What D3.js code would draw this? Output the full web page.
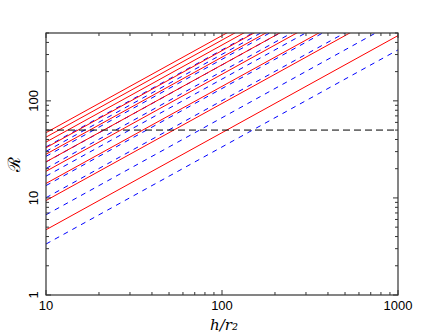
<!DOCTYPE html>
<html><head><meta charset="utf-8">
<script src="https://cdn.jsdelivr.net/npm/d3@7"></script>
<style>body{margin:0;background:#fff}svg{display:block}</style>
</head><body>
<script>
const xDomain = [10, 1000];
const yDomain = [1, 500];
const xTicks = [10, 100, 1000];
const yTicks = [1, 10, 100];
// R value of each line at h/r2 = 10 (lines have slope 1 in log-log)
const redIntercepts = [4.7, 9.4, 14.1, 18.8, 23.5, 28.2, 32.9, 37.6, 42.3, 47.0];
const blueIntercepts = [3.35, 6.7, 10.05, 13.4, 16.75, 20.1, 23.45, 26.8, 30.15, 33.5];
const thresholdR = 50;

const W = 447, H = 334;
const m = {left: 46, right: 49, top: 33, bottom: 39};
const svg = d3.select("body").append("svg").attr("width", W).attr("height", H);
const x = d3.scaleLog().domain(xDomain).range([m.left, W - m.right]);
const y = d3.scaleLog().domain(yDomain).range([H - m.bottom, m.top]);

svg.append("defs").append("clipPath").attr("id", "clip")
  .append("rect").attr("x", m.left).attr("y", m.top)
  .attr("width", W - m.left - m.right).attr("height", H - m.top - m.bottom);

const g = svg.append("g").attr("clip-path", "url(#clip)");
const line = c => [[xDomain[0], c], [xDomain[1], c * xDomain[1] / xDomain[0]]];
const path = d3.line().x(d => x(d[0])).y(d => y(d[1]));

g.selectAll(".blue").data(blueIntercepts).enter().append("path")
  .attr("d", c => path(line(c))).attr("fill", "none")
  .attr("stroke", "#0000ff").attr("stroke-width", 1).attr("stroke-dasharray", "5,5");
g.selectAll(".red").data(redIntercepts).enter().append("path")
  .attr("d", c => path(line(c))).attr("fill", "none")
  .attr("stroke", "#ff0000").attr("stroke-width", 1);
g.append("path").attr("d", path([[xDomain[0], thresholdR], [xDomain[1], thresholdR]]))
  .attr("fill", "none").attr("stroke", "#000").attr("stroke-width", 1).attr("stroke-dasharray", "7,4");

const xAll = [], yAll = [];
for (let d = 10; d < 1000; d *= 10) for (let k = 1; k < 10; k++) xAll.push(d * k);
xAll.push(1000);
for (let d = 1; d < 1000; d *= 10) for (let k = 1; k < 10; k++) if (d * k <= 500) yAll.push(d * k);
const axC = "#333";
const ax = svg.append("g").attr("stroke", axC).attr("stroke-width", 1);
const L = m.left, R = W - m.right, T = m.top, B = H - m.bottom;
xAll.forEach(v => {
  const major = xTicks.includes(v), len = major ? 5 : 3, px = x(v);
  ax.append("line").attr("x1", px).attr("x2", px).attr("y1", B).attr("y2", B - len);
  ax.append("line").attr("x1", px).attr("x2", px).attr("y1", T).attr("y2", T + len);
});
yAll.forEach(v => {
  const major = yTicks.includes(v), len = major ? 5 : 3, py = y(v);
  ax.append("line").attr("y1", py).attr("y2", py).attr("x1", L).attr("x2", L + len);
  ax.append("line").attr("y1", py).attr("y2", py).attr("x1", R).attr("x2", R - len);
});
svg.append("rect").attr("x", L).attr("y", T).attr("width", R - L).attr("height", B - T)
  .attr("fill", "none").attr("stroke", axC).attr("stroke-width", 1.2);

const font = "Liberation Sans, Arial, sans-serif";
svg.selectAll(".xl").data(xTicks).enter().append("text")
  .attr("x", d => x(d)).attr("y", B + 15).attr("text-anchor", "middle")
  .attr("font-family", font).attr("font-size", 13).text(d => d);
svg.selectAll(".yl").data(yTicks).enter().append("text")
  .attr("transform", d => `translate(${L - 8},${y(d)}) rotate(-90)`)
  .attr("text-anchor", "middle").attr("font-family", font).attr("font-size", 13).text(d => d);

svg.append("text").attr("x", (L + R) / 2 + 2).attr("y", H - 4)
  .attr("text-anchor", "middle").attr("font-family", "DejaVu Serif, serif")
  .attr("font-size", 15).attr("font-style", "italic").text("h/r₂");

svg.append("text").attr("transform", `translate(20,${(T + B) / 2}) rotate(-90)`)
  .attr("text-anchor", "middle").attr("font-family", "DejaVu Serif, serif").attr("font-size", 17).text("ℛ");
</script>
</body></html>
